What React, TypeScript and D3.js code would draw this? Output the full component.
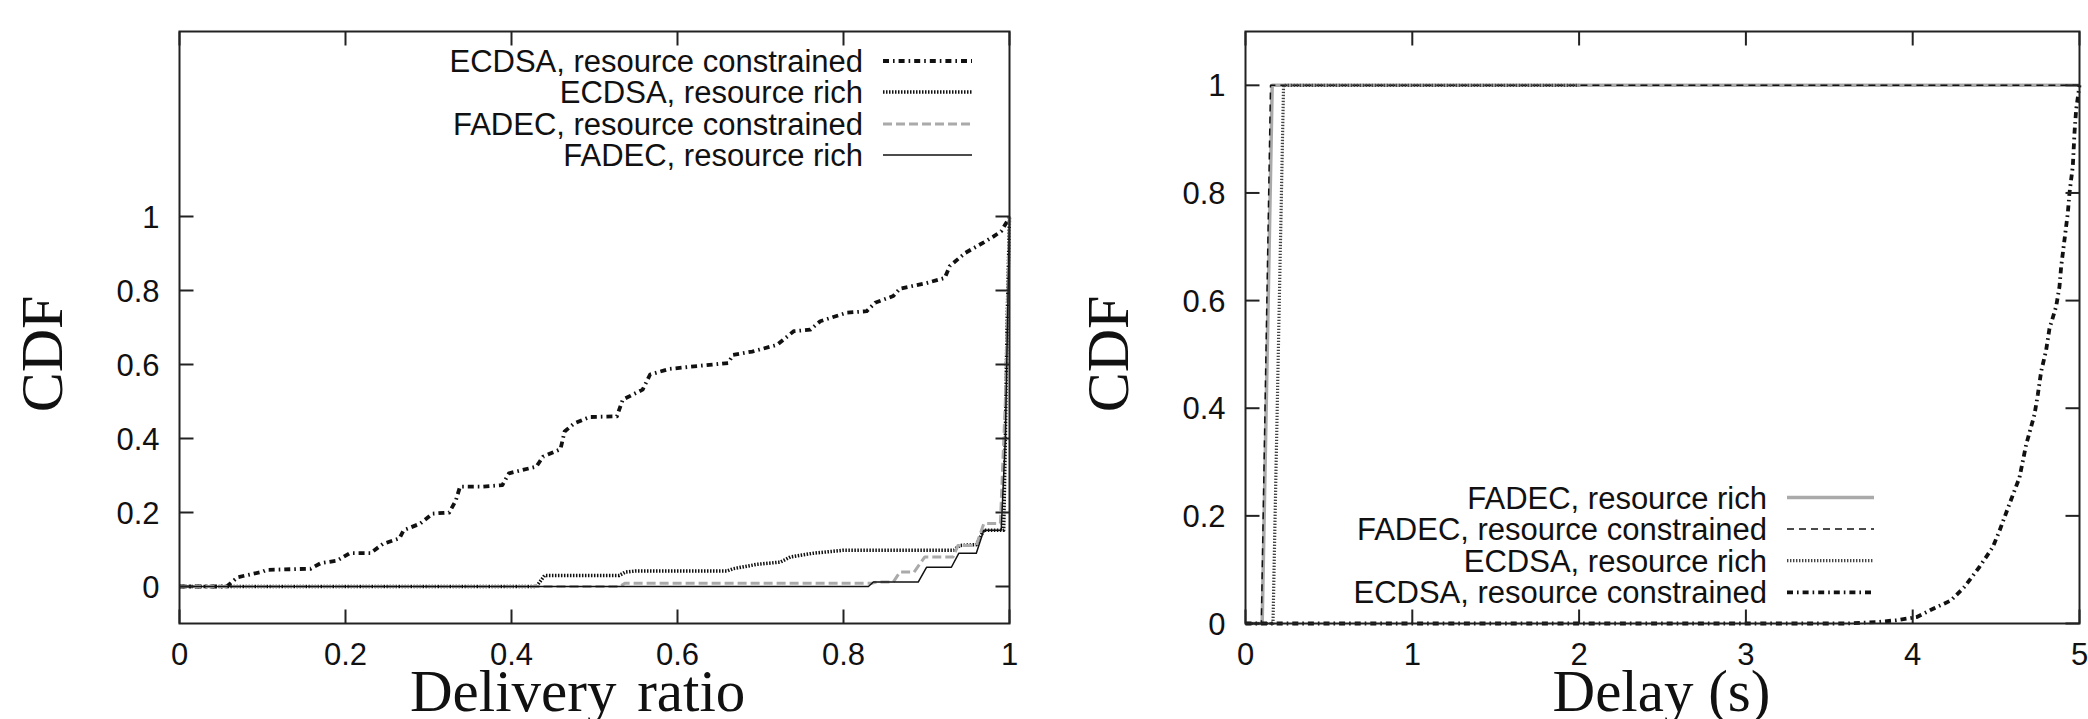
import React from "react";
import * as d3 from "d3";

type P = [number, number];

// ---------- Left panel: Delivery ratio CDF ----------
const leftEcdsaConstrained: P[] = [
  [0, 0], [0.057, 0], [0.07, 0.025], [0.1, 0.04], [0.105, 0.045], [0.158, 0.048],
  [0.17, 0.063], [0.19, 0.07], [0.205, 0.09], [0.23, 0.09], [0.245, 0.115],
  [0.265, 0.13], [0.27, 0.152], [0.29, 0.17], [0.305, 0.197], [0.325, 0.2],
  [0.333, 0.233], [0.338, 0.27], [0.365, 0.27], [0.389, 0.274], [0.397, 0.306],
  [0.43, 0.324], [0.438, 0.351], [0.459, 0.371], [0.464, 0.419], [0.475, 0.44],
  [0.494, 0.458], [0.527, 0.46], [0.534, 0.505], [0.558, 0.532], [0.567, 0.573],
  [0.59, 0.588], [0.62, 0.595], [0.661, 0.604], [0.667, 0.626], [0.69, 0.635],
  [0.72, 0.653], [0.74, 0.69], [0.76, 0.694], [0.772, 0.717], [0.804, 0.74],
  [0.828, 0.744], [0.838, 0.767], [0.86, 0.785], [0.868, 0.805], [0.9, 0.82],
  [0.922, 0.834], [0.928, 0.866], [0.947, 0.902], [0.969, 0.93], [0.98, 0.945],
  [0.99, 0.96], [0.998, 0.99], [1, 1],
];
const leftEcdsaRich: P[] = [
  [0, 0], [0.43, 0], [0.44, 0.03], [0.53, 0.03], [0.537, 0.039], [0.55, 0.042],
  [0.66, 0.042], [0.667, 0.048], [0.696, 0.06], [0.724, 0.066], [0.736, 0.08],
  [0.764, 0.09], [0.8, 0.098], [0.933, 0.098], [0.94, 0.111], [0.96, 0.113],
  [0.969, 0.152], [0.993, 0.152], [0.995, 0.4], [0.997, 0.7], [1, 1],
];
const leftFadecConstrained: P[] = [
  [0, 0], [0.53, 0], [0.537, 0.009], [0.835, 0.009], [0.84, 0.012], [0.86, 0.012],
  [0.868, 0.039], [0.885, 0.039], [0.898, 0.08], [0.932, 0.08], [0.938, 0.111],
  [0.96, 0.111], [0.969, 0.17], [0.989, 0.17], [0.995, 0.5], [1, 1],
];
const leftFadecRich: P[] = [
  [0, 0], [0.83, 0], [0.836, 0.012], [0.89, 0.012], [0.9, 0.052], [0.93, 0.052],
  [0.939, 0.09], [0.96, 0.09], [0.969, 0.152], [0.99, 0.152], [0.995, 0.4], [1, 1],
];

// ---------- Right panel: Delay CDF ----------
const rightFadecRich: P[] = [[0, 0], [0.1, 0], [0.16, 1], [5, 1]];
const rightFadecConstrained: P[] = [[0, 0], [0.095, 0], [0.15, 1], [5, 1]];
const rightEcdsaRich: P[] = [[0, 0], [0.165, 0], [0.228, 1], [2, 1]];
const rightEcdsaConstrained: P[] = [
  [0, 0], [3.6, 0], [3.8, 0.003], [3.9, 0.006], [4.025, 0.012], [4.107, 0.025],
  [4.23, 0.043], [4.31, 0.068], [4.4, 0.105], [4.48, 0.142], [4.52, 0.172],
  [4.58, 0.222], [4.64, 0.271], [4.68, 0.332], [4.73, 0.388], [4.75, 0.425],
  [4.77, 0.468], [4.8, 0.508], [4.82, 0.548], [4.86, 0.589], [4.88, 0.626],
  [4.89, 0.663], [4.91, 0.713], [4.93, 0.763], [4.94, 0.8], [4.96, 0.85],
  [4.97, 0.912], [4.98, 0.955], [5, 1],
];

const leftXTicks = [0, 0.2, 0.4, 0.6, 0.8, 1];
const rightXTicks = [0, 1, 2, 3, 4, 5];
const yTicks = [0, 0.2, 0.4, 0.6, 0.8, 1];

const leftLegend = [
  "ECDSA, resource constrained",
  "ECDSA, resource rich",
  "FADEC, resource constrained",
  "FADEC, resource rich",
];
const rightLegend = [
  "FADEC, resource rich",
  "FADEC, resource constrained",
  "ECDSA, resource rich",
  "ECDSA, resource constrained",
];

type Style = { stroke: string; width: number; dash?: string };

const sDashDot: Style = { stroke: "#111", width: 3.8, dash: "6,4,1.6,4" };
const sDotted: Style = { stroke: "#111", width: 3.5, dash: "1.5,1.5" };
const sDottedGray: Style = { stroke: "#444", width: 3.2, dash: "1.4,1.6" };
const sGrayDash: Style = { stroke: "#aaa", width: 3, dash: "9,4" };
const sThin: Style = { stroke: "#111", width: 1.5 };
const sGraySolid: Style = { stroke: "#aaa", width: 3.5 };
const sThinDash: Style = { stroke: "#111", width: 1.5, dash: "7,5" };

const FONT = "'Liberation Sans', Arial, sans-serif";
const SERIF = "'Liberation Serif', 'Times New Roman', serif";

const TOP = 31.5;
const BOT = 623.5;

function Panel(props: {
  x0: number;
  x1: number;
  xDomain: [number, number];
  yDomain: [number, number];
  xTicks: number[];
  series: { data: P[]; style: Style }[];
  legend: { label: string; style: Style }[];
  legendTextX: number;
  legendLineX: [number, number];
  legendBaselines: number[];
  yTitleX: number;
  xTitle: string;
  xTitleX: number;
  xTitleAnchor: string;
  xTitleSpacing?: number;
}) {
  const xs = d3.scaleLinear().domain(props.xDomain).range([props.x0, props.x1]);
  const ys = d3.scaleLinear().domain(props.yDomain).range([BOT, TOP]);
  const line = d3
    .line<P>()
    .x((d) => xs(d[0]))
    .y((d) => ys(d[1]));
  const tickLen = 14;
  const frame = "#222";
  return (
    <g>
      {props.series.map((s, i) => (
        <path
          key={"s" + i}
          d={line(s.data) || ""}
          fill="none"
          stroke={s.style.stroke}
          strokeWidth={s.style.width}
          strokeDasharray={s.style.dash}
          strokeLinejoin="round"
        />
      ))}
      <rect
        x={props.x0}
        y={TOP}
        width={props.x1 - props.x0}
        height={BOT - TOP}
        fill="none"
        stroke={frame}
        strokeWidth={2}
      />
      {props.xTicks.map((t) => (
        <g key={"xt" + t}>
          <line x1={xs(t)} x2={xs(t)} y1={BOT} y2={BOT - tickLen} stroke={frame} strokeWidth={2} />
          <line x1={xs(t)} x2={xs(t)} y1={TOP} y2={TOP + tickLen} stroke={frame} strokeWidth={2} />
          <text
            x={xs(t)}
            y={665}
            textAnchor="middle"
            fontFamily={FONT}
            fontSize={31}
            fill="#111"
          >
            {String(t)}
          </text>
        </g>
      ))}
      {yTicks.map((t) => (
        <g key={"yt" + t}>
          <line x1={props.x0} x2={props.x0 + tickLen} y1={ys(t)} y2={ys(t)} stroke={frame} strokeWidth={2} />
          <line x1={props.x1} x2={props.x1 - tickLen} y1={ys(t)} y2={ys(t)} stroke={frame} strokeWidth={2} />
          <text
            x={props.x0 - 20}
            y={ys(t) + 11}
            textAnchor="end"
            fontFamily={FONT}
            fontSize={31}
            fill="#111"
          >
            {String(t)}
          </text>
        </g>
      ))}
      {props.legend.map((l, i) => (
        <g key={"lg" + i}>
          <text
            x={props.legendTextX}
            y={props.legendBaselines[i]}
            textAnchor="end"
            fontFamily={FONT}
            fontSize={31}
            fill="#111"
          >
            {l.label}
          </text>
          <line
            x1={props.legendLineX[0]}
            x2={props.legendLineX[1]}
            y1={props.legendBaselines[i] - 11}
            y2={props.legendBaselines[i] - 11}
            stroke={l.style.stroke}
            strokeWidth={l.style.width}
            strokeDasharray={l.style.dash}
          />
        </g>
      ))}
      <text
        transform={`translate(${props.yTitleX},354) rotate(-90)`}
        textAnchor="middle"
        fontFamily={SERIF}
        fontSize={60}
        fill="#111"
      >
        CDF
      </text>
      <text
        x={props.xTitleX}
        y={711}
        textAnchor={props.xTitleAnchor}
        fontFamily={SERIF}
        fontSize={59}
        fill="#111"
        wordSpacing={props.xTitleSpacing || 0}
      >
        {props.xTitle}
      </text>
    </g>
  );
}

export default function App() {
  const leftStyles = [sDashDot, sDotted, sGrayDash, sThin];
  const rightStyles = [sGraySolid, sThinDash, sDottedGray, sDashDot];
  return (
    <svg
      width={2088}
      height={719}
      style={{ position: "absolute", left: 0, top: 0, background: "#fff", display: "block" }}
    >
      <rect x={0} y={0} width={2088} height={719} fill="#fff" />
      <Panel
        x0={179.5}
        x1={1009.5}
        xDomain={[0, 1]}
        yDomain={[-0.1, 1.5]}
        xTicks={leftXTicks}
        series={[
          { data: leftEcdsaConstrained, style: sDashDot },
          { data: leftEcdsaRich, style: sDotted },
          { data: leftFadecConstrained, style: sGrayDash },
          { data: leftFadecRich, style: sThin },
        ]}
        legend={leftLegend.map((label, i) => ({ label, style: leftStyles[i] }))}
        legendTextX={863}
        legendLineX={[883, 972]}
        legendBaselines={[72, 103, 135, 166]}
        yTitleX={62}
        xTitle="Delivery ratio"
        xTitleX={410}
        xTitleAnchor="start"
        xTitleSpacing={6}
      />
      <Panel
        x0={1245.5}
        x1={2079.5}
        xDomain={[0, 5]}
        yDomain={[0, 1.1]}
        xTicks={rightXTicks}
        series={[
          { data: rightFadecRich, style: sGraySolid },
          { data: rightFadecConstrained, style: sThinDash },
          { data: rightEcdsaRich, style: sDottedGray },
          { data: rightEcdsaConstrained, style: sDashDot },
        ]}
        legend={rightLegend.map((label, i) => ({ label, style: rightStyles[i] }))}
        legendTextX={1767}
        legendLineX={[1787, 1874]}
        legendBaselines={[508.5, 540, 571.7, 603.3]}
        yTitleX={1128}
        xTitle="Delay (s)"
        xTitleX={1661.5}
        xTitleAnchor="middle"
      />
    </svg>
  );
}
